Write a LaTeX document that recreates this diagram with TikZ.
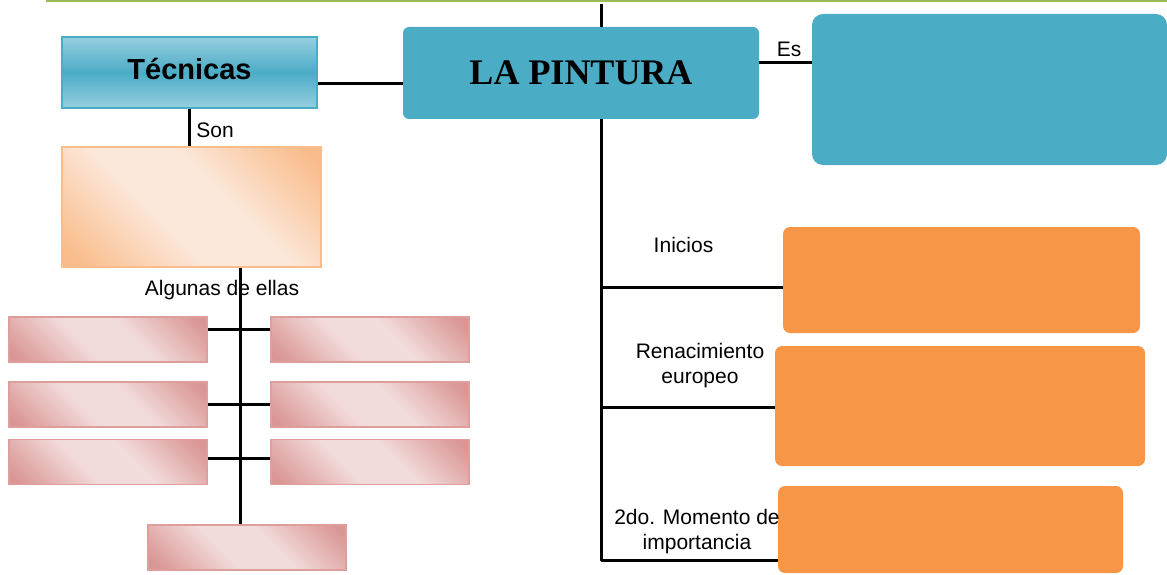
\documentclass[tikz,border=0pt]{standalone}
\usepackage{fontspec}
\setmainfont{Liberation Sans}
\newfontfamily\titlefont{Liberation Serif}
\usetikzlibrary{positioning}

\definecolor{pinturablue}{HTML}{4BACC6}
\definecolor{lightblue}{HTML}{96CFDF}
\definecolor{inicioorange}{HTML}{F79646}
\definecolor{peachdark}{HTML}{F9BC8A}
\definecolor{peachlight}{HTML}{FCE8DA}
\definecolor{pinkdark}{HTML}{D99694}
\definecolor{pinklight}{HTML}{F2DCDB}
\definecolor{pinkedge}{HTML}{DE9E9C}
\definecolor{topgreen}{HTML}{9BBB59}

\pgfdeclarehorizontalshading{peachglow}{100bp}{color(0bp)=(peachdark); color(18bp)=(peachdark); color(42bp)=(peachlight); color(58bp)=(peachlight); color(82bp)=(peachdark); color(100bp)=(peachdark)}
\pgfdeclarehorizontalshading{pinkglow}{100bp}{color(0bp)=(pinkdark); color(18bp)=(pinkdark); color(42bp)=(pinklight); color(58bp)=(pinklight); color(82bp)=(pinkdark); color(100bp)=(pinkdark)}

\begin{document}
\begin{tikzpicture}[x=1pt,y=-1pt,
    conn/.style={black, line width=3pt},
    lbl/.style={font=\fontsize{21}{25}\selectfont, align=center, inner sep=0},
    tealbox/.style={fill=pinturablue, inner sep=0},
    orangebox/.style={fill=inicioorange, rounded corners=7pt, inner sep=0},
    pinkbox/.style={draw=pinkedge, line width=1.5pt, shading=pinkglow, shading angle=45,
        minimum width=198, minimum height=45, inner sep=0}]
        \useasboundingbox (0,0) rectangle (1167,575);

        \draw [topgreen, line width=2pt] (46,1) -- (1167,1);

        % main boxes
        \node[tealbox, rounded corners=6pt, minimum width=356, minimum height=92] (pintura) at (581,73)
            {\titlefont\bfseries\fontsize{36}{40}\selectfont LA PINTURA};
        \node[tealbox, rounded corners=11pt, minimum width=355, minimum height=151] (esbox) at (989.5,89.5) {};
        \node[draw=pinturablue, line width=2pt, top color=lightblue, bottom color=lightblue, middle color=pinturablue,
            minimum width=255, minimum height=71, inner sep=0] (tecnicas) at (189.5,72.5)
            {\raisebox{7pt}{\bfseries\fontsize{29}{32}\selectfont Técnicas}};
        \node[draw=peachdark, line width=2pt, shading=peachglow, shading angle=45,
            minimum width=259, minimum height=120, inner sep=0] (tipos) at (191.5,207) {};

        % algunas de ellas
        \node[pinkbox] (l1) at (108,339.5) {};
        \node[pinkbox] (r1) at (370,339.5) {};
        \node[pinkbox] (l2) at (108,404.5) {};
        \node[pinkbox] (r2) at (370,404.5) {};
        \node[pinkbox] (l3) at (108,462) {};
        \node[pinkbox] (r3) at (370,462) {};
        \node[pinkbox] (l4) at (247,547.5) {};

        % etapas
        \node[orangebox, minimum width=357, minimum height=106] (inicios) at (961.5,280) {};
        \node[orangebox, minimum width=370, minimum height=120] (renac) at (960,406) {};
        \node[orangebox, minimum width=345, minimum height=87] (momento) at (950.5,529.5) {};

        % labels
        \node[lbl] (son) at (215,130) {Son};
        \node[lbl] (es) at (789,49) {Es};
        \node[lbl] (algunas) at (222,290) {Algunas de ellas};
        \node[lbl] (tinicios) at (683.5,245) {Inicios};
        \node[lbl] (trenac) at (700,366) {Renacimiento\\europeo};
        \node[lbl] (tmomento) at (697,532) {2do. Momento de\\importancia};

        % connectors
        \coordinate (top) at (601,4);
        \coordinate (spine) at (240,268);
        \draw [conn] (top) -- (top |- pintura.north);
        \draw [conn] ([yshift=-11.5pt]tecnicas.east) -- ([yshift=-11.5pt]tecnicas.east -| pintura.west);
        \draw [conn] ([yshift=10pt]pintura.east) -- ([yshift=10pt]pintura.east -| esbox.west);
        \draw [conn] (tecnicas.south) -- (tecnicas.south |- tipos.north);
        \draw [conn] (spine |- tipos.south) -- (spine |- l4.north);
        \draw [conn] ([yshift=10.5pt]l1.east) -- ([yshift=10.5pt]r1.west);
        \draw [conn] (l2.east) -- (r2.west);
        \draw [conn] ([yshift=4pt]l3.east) -- ([yshift=4pt]r3.west);

        \draw [conn, line join=round] (top |- pintura.south) -- (601,560) -- (momento.west |- 0,560);
        \draw [conn] (601,287) -- (inicios.west |- 0,287);
        \draw [conn] (601,407) -- (renac.west |- 0,407);
\end{tikzpicture}
\end{document}
